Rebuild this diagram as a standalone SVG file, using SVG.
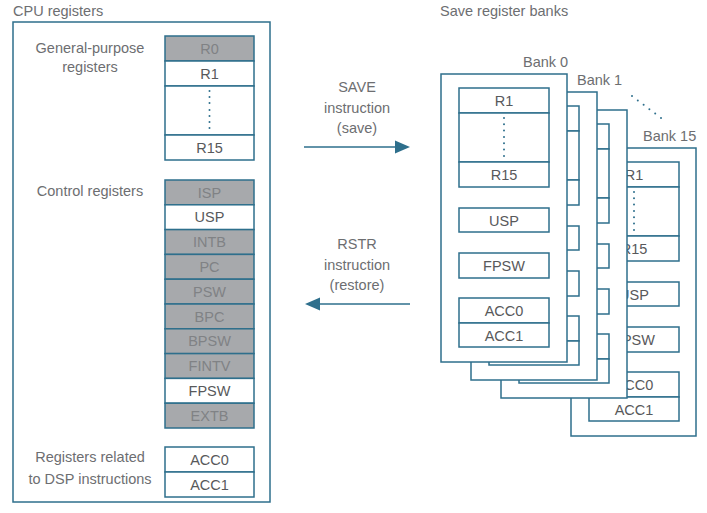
<svg xmlns="http://www.w3.org/2000/svg" width="707" height="513" viewBox="0 0 707 513">
<style>
text{font-family:"Liberation Sans",Arial,sans-serif;font-size:14.5px;fill:#6d6e71}
.c{text-anchor:middle}
.r{fill:#fff;stroke:#2e6f8c;stroke-width:1.5}
.g{fill:#a7a9ac;stroke:#2e6f8c;stroke-width:1.5}
.b{fill:#fff;stroke:#2e6f8c;stroke-width:1.5}
.tg{fill:#808285;text-anchor:middle}
.tw{fill:#58595b;text-anchor:middle}
.d{fill:#2e6f8c}
.ln{stroke:#2e6f8c;stroke-width:1.5;fill:none}
</style>
<rect width="707" height="513" fill="#fff"/>

<g id="cpu-registers">
<rect class="b" x="13" y="22" width="257" height="480"/>
<text x="13" y="16">CPU registers</text>
<text class="c" x="90" y="53">General-purpose</text>
<text class="c" x="90" y="72">registers</text>
<text class="c" x="90" y="196">Control registers</text>
<text class="c" x="90" y="462">Registers related</text>
<text class="c" x="90" y="484">to DSP instructions</text>
</g>

<g id="general-purpose">
<rect class="g" x="165" y="36" width="89" height="25"/><text class="tg" x="209.5" y="54">R0</text>
<rect class="r" x="165" y="61" width="89" height="25"/><text class="tw" x="209.5" y="79">R1</text>
<rect class="r" x="165" y="86" width="89" height="49"/>
<g class="d"><circle cx="209.5" cy="91" r="1"/><circle cx="209.5" cy="97" r="1"/><circle cx="209.5" cy="103" r="1"/><circle cx="209.5" cy="110" r="1"/><circle cx="209.5" cy="116" r="1"/><circle cx="209.5" cy="122" r="1"/><circle cx="209.5" cy="128" r="1"/></g>
<rect class="r" x="165" y="135" width="89" height="25"/><text class="tw" x="209.5" y="153">R15</text>
</g>

<g id="control">
<rect class="g" x="165" y="180" width="89" height="24.8"/><text class="tg" x="209.5" y="197.5">ISP</text>
<rect class="r" x="165" y="204.8" width="89" height="24.8"/><text class="tw" x="209.5" y="222.3">USP</text>
<rect class="g" x="165" y="229.6" width="89" height="24.8"/><text class="tg" x="209.5" y="247.1">INTB</text>
<rect class="g" x="165" y="254.4" width="89" height="24.8"/><text class="tg" x="209.5" y="271.9">PC</text>
<rect class="g" x="165" y="279.2" width="89" height="24.8"/><text class="tg" x="209.5" y="296.7">PSW</text>
<rect class="g" x="165" y="304" width="89" height="24.8"/><text class="tg" x="209.5" y="321.5">BPC</text>
<rect class="g" x="165" y="328.8" width="89" height="24.8"/><text class="tg" x="209.5" y="346.3">BPSW</text>
<rect class="g" x="165" y="353.6" width="89" height="24.8"/><text class="tg" x="209.5" y="371.1">FINTV</text>
<rect class="r" x="165" y="378.4" width="89" height="24.8"/><text class="tw" x="209.5" y="395.9">FPSW</text>
<rect class="g" x="165" y="403.2" width="89" height="24.8"/><text class="tg" x="209.5" y="420.7">EXTB</text>
</g>

<g id="dsp">
<rect class="r" x="165" y="447" width="89" height="25"/><text class="tw" x="209.5" y="465">ACC0</text>
<rect class="r" x="165" y="472" width="89" height="25"/><text class="tw" x="209.5" y="490">ACC1</text>
</g>

<g id="connectors">
<line class="ln" x1="304" y1="147" x2="397" y2="147"/>
<polygon class="d" points="395,140.5 410,147 395,153.5"/>
<line class="ln" x1="318" y1="304" x2="410" y2="304"/>
<polygon class="d" points="320,297.5 305,304 320,310.5"/>
</g>

<g id="save-label">
<text class="c" x="357" y="92">SAVE</text>
<text class="c" x="357" y="113">instruction</text>
<text class="c" x="357" y="133">(save)</text>
</g>
<g id="rstr-label">
<text class="c" x="357" y="249">RSTR</text>
<text class="c" x="357" y="270">instruction</text>
<text class="c" x="357" y="290">(restore)</text>
</g>

<text x="440" y="16">Save register banks</text>

<g id="bank15">
<rect class="b" x="571" y="148" width="125" height="288"/>
<rect class="r" x="589" y="162" width="90" height="25"/><text class="tw" x="634" y="180">R1</text>
<rect class="r" x="589" y="187" width="90" height="49"/>
<g class="d"><circle cx="634" cy="192" r="1"/><circle cx="634" cy="198.3" r="1"/><circle cx="634" cy="204.6" r="1"/><circle cx="634" cy="211" r="1"/><circle cx="634" cy="217.3" r="1"/><circle cx="634" cy="223.6" r="1"/><circle cx="634" cy="230" r="1"/></g>
<rect class="r" x="589" y="236" width="90" height="25"/><text class="tw" x="634" y="254">R15</text>
<rect class="r" x="589" y="282" width="90" height="24"/><text class="tw" x="634" y="299.5">USP</text>
<rect class="r" x="589" y="327" width="90" height="25"/><text class="tw" x="634" y="345">FPSW</text>
<rect class="r" x="589" y="372" width="90" height="25"/><text class="tw" x="634" y="390">ACC0</text>
<rect class="r" x="589" y="397" width="90" height="24"/><text class="tw" x="634" y="414.5">ACC1</text>
<text x="643" y="141">Bank 15</text>
</g>

<g id="bank-dots" class="d">
<circle cx="632" cy="96" r="1"/><circle cx="637.8" cy="100.4" r="1"/><circle cx="643.6" cy="104.8" r="1"/><circle cx="649.4" cy="109.2" r="1"/><circle cx="655.2" cy="113.6" r="1"/><circle cx="661" cy="118" r="1"/>
</g>

<g id="bank2">
<rect class="b" x="501" y="110" width="126" height="288"/>
<rect class="r" x="519" y="124" width="90" height="25"/>
<rect class="r" x="519" y="149" width="90" height="49"/>
<rect class="r" x="519" y="198" width="90" height="25"/>
<rect class="r" x="519" y="244" width="90" height="24"/>
<rect class="r" x="519" y="289" width="90" height="25"/>
<rect class="r" x="519" y="334" width="90" height="25"/>
<rect class="r" x="519" y="359" width="90" height="24"/>
</g>

<g id="bank1">
<rect class="b" x="471" y="92" width="126" height="288"/>
<rect class="r" x="489" y="106" width="90" height="25"/>
<rect class="r" x="489" y="131" width="90" height="49"/>
<rect class="r" x="489" y="180" width="90" height="25"/>
<rect class="r" x="489" y="226" width="90" height="24"/>
<rect class="r" x="489" y="271" width="90" height="25"/>
<rect class="r" x="489" y="316" width="90" height="25"/>
<rect class="r" x="489" y="341" width="90" height="24"/>
<text x="577" y="85">Bank 1</text>
</g>

<g id="bank0">
<rect class="b" x="441" y="74" width="126" height="288"/>
<rect class="r" x="459" y="88" width="90" height="25"/><text class="tw" x="504" y="106">R1</text>
<rect class="r" x="459" y="113" width="90" height="49"/>
<g class="d"><circle cx="504" cy="118" r="1"/><circle cx="504" cy="124.3" r="1"/><circle cx="504" cy="130.6" r="1"/><circle cx="504" cy="137" r="1"/><circle cx="504" cy="143.3" r="1"/><circle cx="504" cy="149.6" r="1"/><circle cx="504" cy="156" r="1"/></g>
<rect class="r" x="459" y="162" width="90" height="25"/><text class="tw" x="504" y="180">R15</text>
<rect class="r" x="459" y="208" width="90" height="24"/><text class="tw" x="504" y="225.5">USP</text>
<rect class="r" x="459" y="253" width="90" height="25"/><text class="tw" x="504" y="271">FPSW</text>
<rect class="r" x="459" y="298" width="90" height="25"/><text class="tw" x="504" y="316">ACC0</text>
<rect class="r" x="459" y="323" width="90" height="24"/><text class="tw" x="504" y="340.5">ACC1</text>
<text x="523" y="67">Bank 0</text>
</g>
</svg>
